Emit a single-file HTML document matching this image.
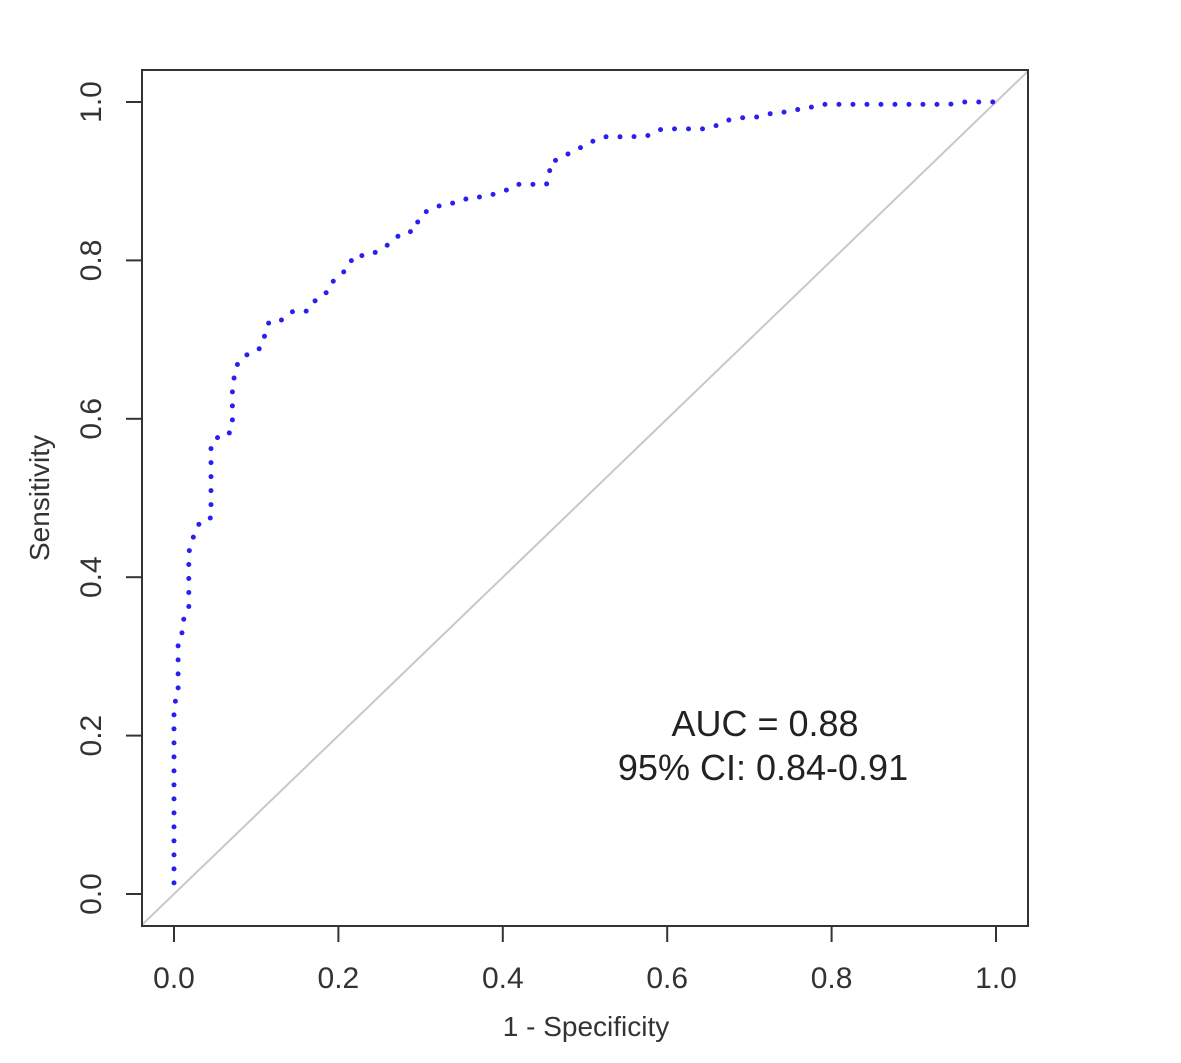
<!DOCTYPE html>
<html><head><meta charset="utf-8"><style>
html,body{margin:0;padding:0;background:#fff;}
svg{display:block;font-family:"Liberation Sans",Arial,sans-serif;}
</style></head><body>
<svg id="chart" width="1181" height="1063" viewBox="0 0 1181 1063" xmlns="http://www.w3.org/2000/svg">
<rect x="0" y="0" width="1181" height="1063" fill="#fff"/>
<g id="layer"></g>
</svg>
<script>
const xTicks = [0, 0.2, 0.4, 0.6, 0.8, 1.0];
const xTickLabels = ["0.0", "0.2", "0.4", "0.6", "0.8", "1.0"];
const yTicks = [0, 0.2, 0.4, 0.6, 0.8, 1.0];
const yTickLabels = ["0.0", "0.2", "0.4", "0.6", "0.8", "1.0"];
const fpr = [0,0,0.005,0.005,0.011,0.012,0.018,0.018,0.022,0.032,0.045,0.045,0.05,0.064,0.071,0.071,0.078,0.089,0.102,0.109,0.111,0.116,0.133,0.145,0.162,0.168,0.178,0.187,0.193,0.204,0.213,0.218,0.236,0.249,0.258,0.269,0.277,0.293,0.297,0.303,0.315,0.327,0.345,0.361,0.378,0.393,0.405,0.417,0.433,0.453,0.457,0.457,0.470,0.482,0.494,0.506,0.523,0.539,0.556,0.575,0.591,0.609,0.627,0.645,0.662,0.674,0.691,0.709,0.721,0.738,0.752,0.768,0.786,0.943,0.961,0.979,1.0];
const tpr = [0.014,0.240,0.250,0.321,0.332,0.350,0.361,0.431,0.447,0.471,0.475,0.563,0.576,0.577,0.588,0.643,0.672,0.681,0.686,0.696,0.711,0.723,0.725,0.736,0.736,0.745,0.756,0.760,0.773,0.783,0.792,0.806,0.806,0.812,0.818,0.827,0.835,0.837,0.850,0.860,0.865,0.871,0.873,0.880,0.880,0.885,0.889,0.896,0.896,0.896,0.905,0.923,0.929,0.936,0.942,0.949,0.956,0.956,0.956,0.957,0.965,0.966,0.966,0.966,0.971,0.977,0.980,0.981,0.985,0.986,0.990,0.991,0.997,0.997,1.0,1.0,1.0];

const X0 = 174, X1 = 996, Y0 = 894, Y1 = 102;
const box = {l:142, r:1028, t:70, b:926};
function sx(v){ return X0 + (X1 - X0) * v; }
function sy(v){ return Y0 - (Y0 - Y1) * v; }
const NS = "http://www.w3.org/2000/svg";
const layer = document.getElementById('layer');
function mk(tag, attrs, parent){
  const e = document.createElementNS(NS, tag);
  for (const k in attrs) e.setAttribute(k, attrs[k]);
  (parent || layer).appendChild(e);
  return e;
}

const dl = box.l, dr = box.r;
const diag = mk('line', {x1: dl, y1: sy((dl - X0)/(X1 - X0)), x2: dr, y2: sy((dr - X0)/(X1 - X0)), stroke: '#c8c8c8', 'stroke-width': 2});



let d = '';
for (let i = 0; i < fpr.length; i++) d += (i ? 'L' : 'M') + sx(fpr[i]).toFixed(1) + ',' + sy(tpr[i]).toFixed(1);
const curve = mk('path', {d: d, fill: 'none', stroke: '#2a1ff0', 'stroke-width': 5, 'stroke-linecap': 'round', 'stroke-dasharray': '0 14'});



const frame = mk('rect', {x: box.l, y: box.t, width: box.r - box.l, height: box.b - box.t, fill: 'none', stroke: '#333', 'stroke-width': 2});



for (let i = 0; i < xTicks.length; i++) {
  const x = sx(xTicks[i]);
  const t = mk('line', {x1: x, y1: box.b, x2: x, y2: box.b + 16, stroke: '#333', 'stroke-width': 2});
  
  
  const l = mk('text', {x: x, y: 988, 'font-size': 30, fill: '#333', 'text-anchor': 'middle'});
  l.textContent = xTickLabels[i];
  
  
}
for (let i = 0; i < yTicks.length; i++) {
  const y = sy(yTicks[i]);
  const t = mk('line', {x1: box.l - 16, y1: y, x2: box.l, y2: y, stroke: '#333', 'stroke-width': 2});
  
  
  const l = mk('text', {x: 0, y: 0, 'font-size': 30, fill: '#333', 'text-anchor': 'middle', transform: 'translate(101,' + y + ') rotate(-90)'});
  l.textContent = yTickLabels[i];
  
  
}
const xt = mk('text', {x: 586, y: 1036, 'font-size': 28, fill: '#333', 'text-anchor': 'middle'});
xt.textContent = '1 - Specificity';


const yt = mk('text', {x: 0, y: 0, 'font-size': 28, fill: '#333', 'text-anchor': 'middle', transform: 'translate(49,498) rotate(-90)'});
yt.textContent = 'Sensitivity';



const a1 = mk('text', {x: 765, y: 736, 'font-size': 36, fill: '#222', 'text-anchor': 'middle'});
a1.textContent = 'AUC = 0.88';


const a2 = mk('text', {x: 763, y: 780, 'font-size': 36, fill: '#222', 'text-anchor': 'middle'});
a2.textContent = '95% CI: 0.84-0.91';


</script>
</body></html>
